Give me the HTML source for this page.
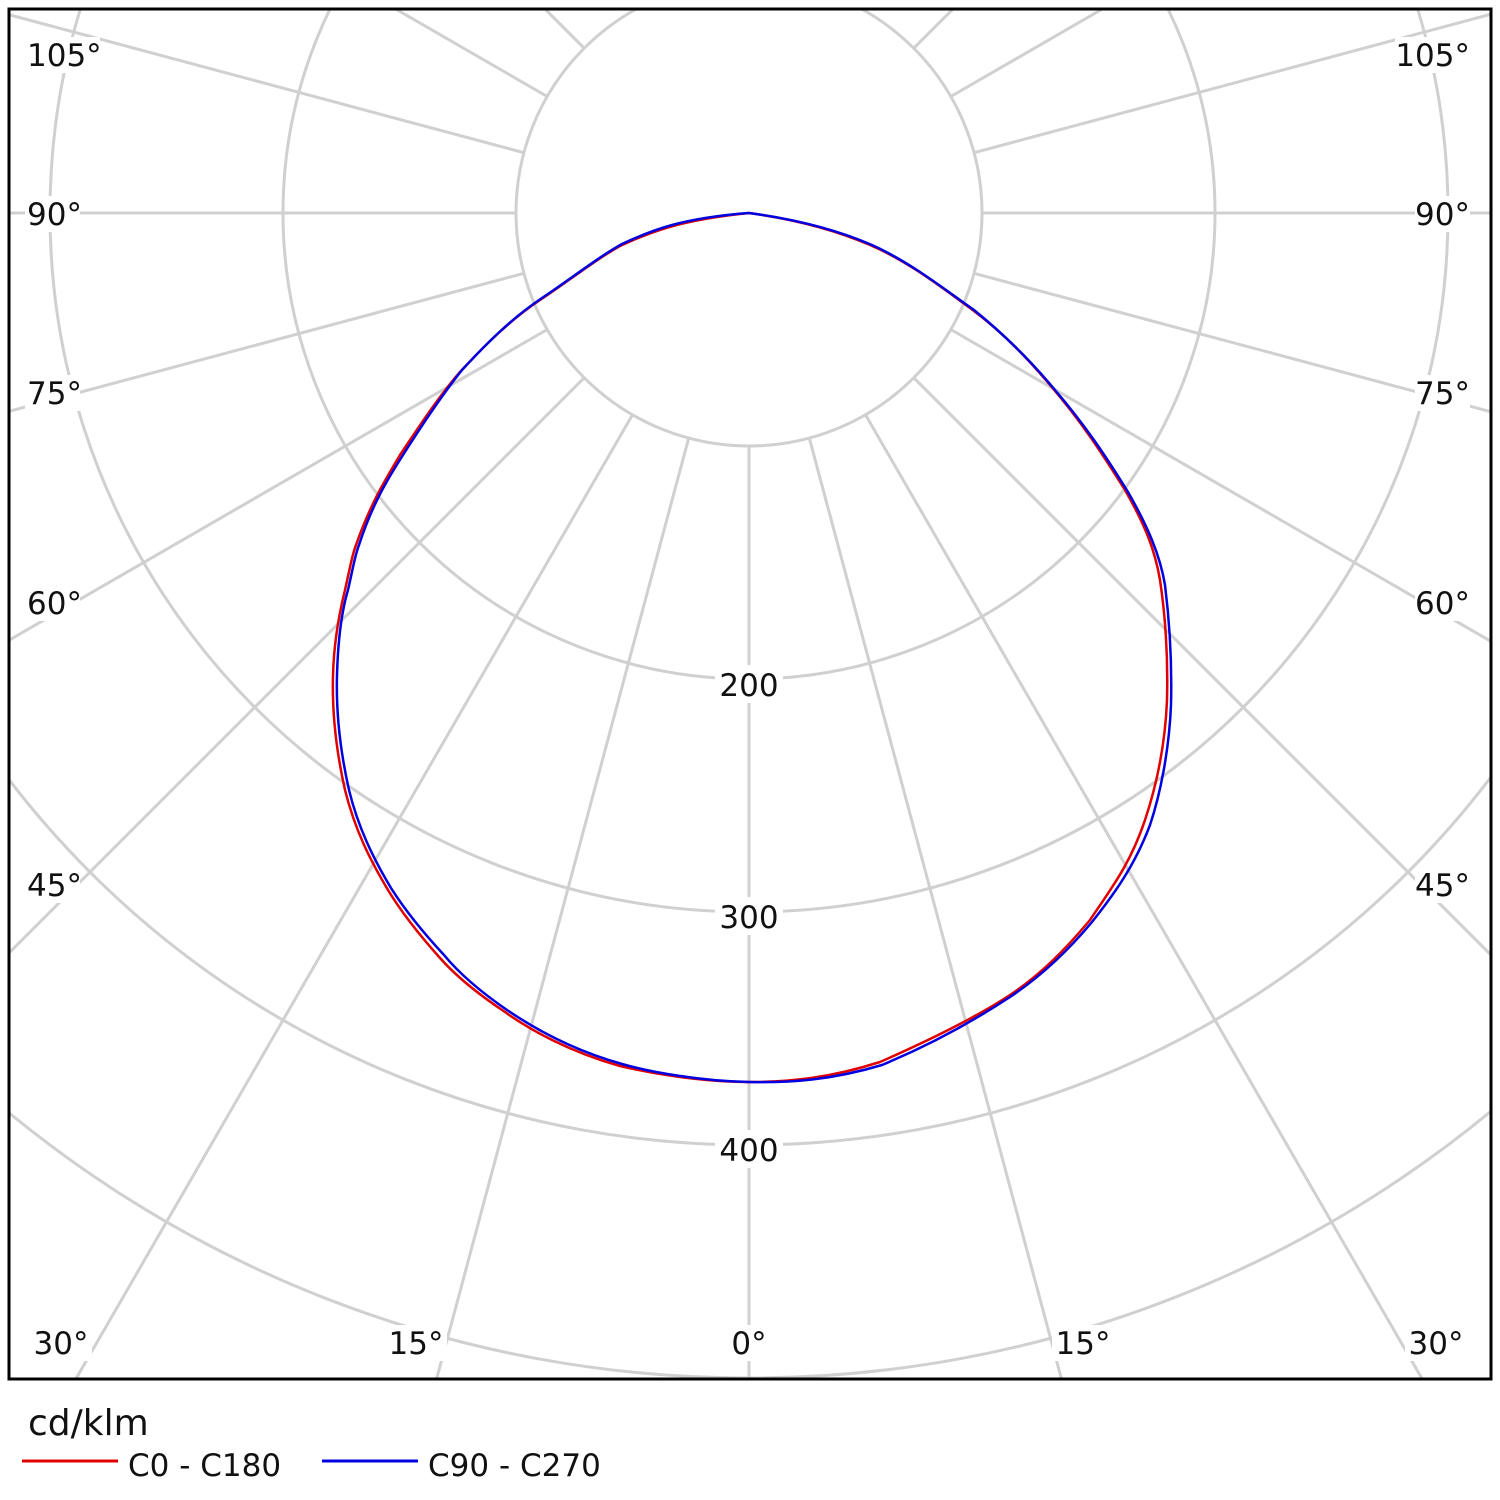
<!DOCTYPE html>
<html><head><meta charset="utf-8"><style>
html,body{margin:0;padding:0;background:#fff;width:1500px;height:1500px;overflow:hidden;}
svg{display:block;font-family:"DejaVu Sans","Liberation Sans",sans-serif;}
</style></head><body>
<svg width="1500" height="1500" viewBox="0 0 1500 1500" xmlns="http://www.w3.org/2000/svg">
<defs><clipPath id="c"><rect x="9" y="9" width="1482" height="1370"/></clipPath></defs>
<rect width="1500" height="1500" fill="#fff"/>
<g clip-path="url(#c)" stroke="#d0d0d0" stroke-width="3" fill="none">
<circle cx="749" cy="213" r="233"/>
<circle cx="749" cy="213" r="466"/>
<circle cx="749" cy="213" r="699"/>
<circle cx="749" cy="213" r="932"/>
<circle cx="749" cy="213" r="1165"/>
<circle cx="749" cy="213" r="1398"/>
<g transform="translate(749,213)">
<line x1="0" y1="233" x2="0" y2="2000" transform="rotate(0)"/>
<line x1="0" y1="233" x2="0" y2="2000" transform="rotate(15)"/>
<line x1="0" y1="233" x2="0" y2="2000" transform="rotate(30)"/>
<line x1="0" y1="233" x2="0" y2="2000" transform="rotate(45)"/>
<line x1="0" y1="233" x2="0" y2="2000" transform="rotate(60)"/>
<line x1="0" y1="233" x2="0" y2="2000" transform="rotate(75)"/>
<line x1="0" y1="233" x2="0" y2="2000" transform="rotate(90)"/>
<line x1="0" y1="233" x2="0" y2="2000" transform="rotate(105)"/>
<line x1="0" y1="233" x2="0" y2="2000" transform="rotate(120)"/>
<line x1="0" y1="233" x2="0" y2="2000" transform="rotate(135)"/>
<line x1="0" y1="233" x2="0" y2="2000" transform="rotate(150)"/>
<line x1="0" y1="233" x2="0" y2="2000" transform="rotate(165)"/>
<line x1="0" y1="233" x2="0" y2="2000" transform="rotate(180)"/>
<line x1="0" y1="233" x2="0" y2="2000" transform="rotate(-15)"/>
<line x1="0" y1="233" x2="0" y2="2000" transform="rotate(-30)"/>
<line x1="0" y1="233" x2="0" y2="2000" transform="rotate(-45)"/>
<line x1="0" y1="233" x2="0" y2="2000" transform="rotate(-60)"/>
<line x1="0" y1="233" x2="0" y2="2000" transform="rotate(-75)"/>
<line x1="0" y1="233" x2="0" y2="2000" transform="rotate(-90)"/>
<line x1="0" y1="233" x2="0" y2="2000" transform="rotate(-105)"/>
<line x1="0" y1="233" x2="0" y2="2000" transform="rotate(-120)"/>
<line x1="0" y1="233" x2="0" y2="2000" transform="rotate(-135)"/>
<line x1="0" y1="233" x2="0" y2="2000" transform="rotate(-150)"/>
<line x1="0" y1="233" x2="0" y2="2000" transform="rotate(-165)"/>
</g>
</g>
<g font-size="31" fill="#111">
<g text-anchor="middle">
<rect x="715" y="665" width="68" height="38" fill="#fff"/><text x="749" y="696">200</text>
<rect x="715" y="897" width="68" height="38" fill="#fff"/><text x="749" y="928">300</text>
<rect x="715" y="1130" width="68" height="38" fill="#fff"/><text x="749" y="1161">400</text>
<rect x="725" y="1325" width="48" height="36" fill="#fff"/><text x="749" y="1354">0°</text>
<rect x="385" y="1325" width="62" height="36" fill="#fff"/><text x="416" y="1354">15°</text>
<rect x="1052" y="1325" width="62" height="36" fill="#fff"/><text x="1083" y="1354">15°</text>
<rect x="30" y="1325" width="62" height="36" fill="#fff"/><text x="61" y="1354">30°</text>
<rect x="1405" y="1325" width="62" height="36" fill="#fff"/><text x="1436" y="1354">30°</text>
</g>
<g text-anchor="start">
<rect x="25" y="867" width="55" height="36" fill="#fff"/><text x="27" y="896">45°</text>
<rect x="25" y="585" width="55" height="36" fill="#fff"/><text x="27" y="614">60°</text>
<rect x="25" y="375" width="55" height="36" fill="#fff"/><text x="27" y="404">75°</text>
<rect x="25" y="196" width="55" height="36" fill="#fff"/><text x="27" y="225">90°</text>
<rect x="25" y="37" width="75" height="36" fill="#fff"/><text x="27" y="66">105°</text>
</g>
<g text-anchor="end">
<rect x="1415" y="867" width="55" height="36" fill="#fff"/><text x="1470" y="896">45°</text>
<rect x="1415" y="585" width="55" height="36" fill="#fff"/><text x="1470" y="614">60°</text>
<rect x="1415" y="375" width="55" height="36" fill="#fff"/><text x="1470" y="404">75°</text>
<rect x="1415" y="196" width="55" height="36" fill="#fff"/><text x="1470" y="225">90°</text>
<rect x="1395" y="37" width="75" height="36" fill="#fff"/><text x="1470" y="66">105°</text>
</g>
</g>
<g fill="none" stroke-width="2.5" stroke-linejoin="round">
<path stroke="#e00000" d="M749,1082 C700,1082 650,1073 620,1066 C570,1052 530,1030 505,1012 C475,992 455,975 440,958 C415,930 400,910 388,890 C370,860 355,830 345,790 C336,750 332,710 333,675 C334,640 340,610 345,590 C350,568 352,555 356,545 C370,505 385,480 400,455 C420,425 440,395 460,372 C485,345 510,320 540,300 C570,280 595,260 620,246 C650,232 680,220 749,213 C800,220 840,232 870,245 C910,262 945,290 970,308 C1000,330 1025,355 1050,385 C1080,420 1100,450 1125,490 C1145,525 1155,550 1160,580 C1166,620 1168,660 1167,700 C1165,750 1155,790 1145,820 C1130,865 1110,890 1090,920 C1065,950 1040,975 1010,995 C975,1018 930,1040 880,1062 C830,1078 790,1082 749,1082 Z"/>
<path stroke="#0000e0" d="M749,1082 C700,1081 650,1072 622,1064 C572,1050 532,1027 507,1010 C478,990 458,972 444,955 C418,927 403,907 391,888 C373,858 358,827 349,790 C340,750 336,710 337,675 C338,640 342,610 348,590 C353,568 355,555 359,545 C372,505 387,480 403,455 C422,425 442,395 462,370 C487,343 512,318 542,298 C572,278 597,258 622,244 C652,230 682,218 749,213 C802,220 842,232 872,245 C912,263 948,292 974,310 C1005,335 1030,360 1055,390 C1085,425 1105,455 1128,492 C1148,527 1160,555 1165,585 C1170,625 1172,665 1171,705 C1169,752 1160,795 1150,825 C1135,865 1115,893 1092,922 C1067,952 1040,977 1010,997 C975,1020 930,1045 882,1065 C832,1080 790,1083 749,1082 Z"/>
</g>
<rect x="9" y="9" width="1482" height="1370" fill="none" stroke="#000" stroke-width="3"/>
<text x="28" y="1435" font-size="36" fill="#111">cd/klm</text>
<line x1="22" y1="1461" x2="118" y2="1461" stroke="#e00000" stroke-width="3"/>
<text x="128" y="1476" font-size="31" fill="#111">C0 - C180</text>
<line x1="322" y1="1461" x2="418" y2="1461" stroke="#0000e0" stroke-width="3"/>
<text x="428" y="1476" font-size="31" fill="#111">C90 - C270</text>
</svg>
</body></html>
